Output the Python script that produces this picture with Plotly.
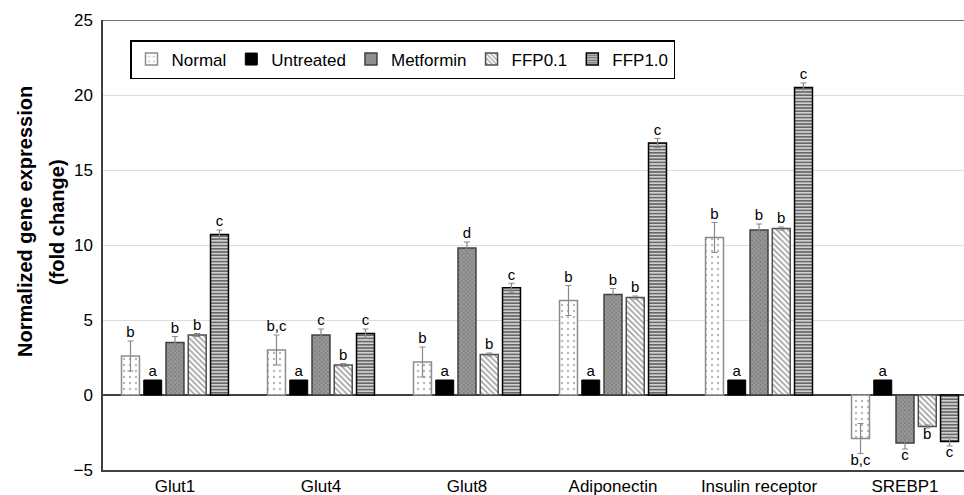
import plotly.graph_objects as go

genes = ["Glut1", "Glut4", "Glut8", "Adiponectin", "Insulin receptor", "SREBP1"]
series = ["Normal", "Untreated", "Metformin", "FFP0.1", "FFP1.0"]

normal = [2.6, 3.0, 2.2, 6.3, 10.5, -2.9]
untreated = [1.0, 1.0, 1.0, 1.0, 1.0, 1.0]
metformin = [3.5, 4.0, 9.8, 6.7, 11.0, -3.2]
ffp01 = [4.0, 2.0, 2.7, 6.5, 11.1, -2.1]
ffp10 = [10.7, 4.1, 7.15, 16.8, 20.5, -3.1]

normal_err = [1.0, 1.0, 1.0, 1.0, 1.0, 1.0]
untreated_err = [0, 0, 0, 0, 0, 0]
metformin_err = [0.4, 0.4, 0.4, 0.4, 0.4, 0.4]
ffp01_err = [0.1, 0.1, 0.1, 0.1, 0.1, 0.1]
ffp10_err = [0.3, 0.3, 0.3, 0.3, 0.3, 0.3]

normal_lbl = ["b", "b,c", "b", "b", "b", "b,c"]
untreated_lbl = ["a", "a", "a", "a", "a", "a"]
metformin_lbl = ["b", "c", "d", "b", "b", "c"]
ffp01_lbl = ["b", "b", "b", "b", "b", "b"]
ffp10_lbl = ["c", "c", "c", "c", "c", "c"]

values = [normal, untreated, metformin, ffp01, ffp10]
errors = [normal_err, untreated_err, metformin_err, ffp01_err, ffp10_err]
labels = [normal_lbl, untreated_lbl, metformin_lbl, ffp01_lbl, ffp10_lbl]

FONT = "Liberation Sans, Arial, sans-serif"
STEP = 0.1524
WIDTH = 0.123

styles = [
    dict(color="white", line=dict(color="#8c8c8c", width=1.5),
         pattern=dict(shape=".", fgcolor="#707070", bgcolor="white", size=6, solidity=0.12)),
    dict(color="black", line=dict(color="black", width=1)),
    dict(color="#7a7a7a", line=dict(color="#404040", width=1.5),
         pattern=dict(shape="x", fgcolor="#555555", bgcolor="#9a9a9a", size=3, solidity=0.4)),
    dict(color="white", line=dict(color="#505050", width=1.5),
         pattern=dict(shape="\\", fgcolor="#404040", bgcolor="white", size=4, solidity=0.4)),
    dict(color="#c8c8c8", line=dict(color="black", width=1.5),
         pattern=dict(shape="-", fgcolor="black", bgcolor="#d0d0d0", size=3.2, solidity=0.5)),
]

idx = list(range(len(genes)))
fig = go.Figure()
for k, name in enumerate(series):
    off = (k - 2) * STEP - WIDTH / 2
    has_err = any(e > 0 for e in errors[k])
    fig.add_trace(go.Bar(
        x=idx, y=values[k], name=name, offset=off, width=WIDTH,
        marker=styles[k],
        error_y=dict(type="data", array=errors[k], visible=has_err,
                     color="#8a8a8a", thickness=1.2, width=3),
    ))

for k, name in enumerate(series):
    cx = [i + (k - 2) * STEP for i in idx]
    for sign, pos in [(1, "top center"), (-1, "bottom center")]:
        xs, ys, ts = [], [], []
        for i in idx:
            v = values[k][i]
            if (v >= 0) == (sign > 0):
                xs.append(cx[i])
                ys.append(v + errors[k][i] if v >= 0 else v - errors[k][i])
                ts.append(labels[k][i])
        if xs:
            fig.add_trace(go.Scatter(
                x=xs, y=ys, text=ts, mode="text", textposition=pos,
                textfont=dict(family=FONT, size=15, color="black"),
                showlegend=False, hoverinfo="skip"))

fig.add_shape(type="line", xref="paper", x0=0, x1=1, yref="y", y0=25, y1=25,
              line=dict(color="#404040", width=1.5))

PL, PT, PW, PH = 103, 20, 861, 450
title_lines = ["Normalized gene expression", "(fold change)"]
title_x_px = [25, 57]
for txt, xp in zip(title_lines, title_x_px):
    fig.add_annotation(text="<b>" + txt + "</b>",
                       textangle=-90, xref="paper", yref="paper",
                       x=(xp - PL) / PW, y=1 - (222 - PT) / PH,
                       xanchor="center", yanchor="middle", showarrow=False,
                       font=dict(family=FONT, size=20, color="black"))

fig.update_layout(
    width=964, height=495,
    margin=dict(l=PL, r=0, t=PT, b=25),
    paper_bgcolor="white", plot_bgcolor="white",
    barmode="overlay",
    font=dict(family=FONT, size=17, color="black"),
    showlegend=True,
    legend=dict(orientation="h", x=(130 - PL) / PW, y=1 - (40 - PT) / PH,
                xanchor="left", yanchor="top",
                bordercolor="black", borderwidth=1.5, bgcolor="white",
                font=dict(family=FONT, size=17), itemwidth=30,
                traceorder="normal"),
    xaxis=dict(range=[-0.493, 5.404], tickmode="array", tickvals=idx, ticktext=genes,
               showgrid=False, zeroline=False, showline=True, linecolor="#404040",
               linewidth=1.5, ticks="", tickfont=dict(size=17)),
    yaxis=dict(range=[-5, 25], dtick=5, showgrid=True, gridcolor="#dcdcdc", gridwidth=1,
               zeroline=True, zerolinecolor="#404040", zerolinewidth=1.5,
               showline=True, linecolor="#404040", linewidth=1.5, ticks="",
               tickfont=dict(size=17), ticklabelstandoff=5),
)

fig.write_html("out.html", config={"displayModeBar": False},
               post_script="document.body.style.margin='0';document.body.style.overflow='hidden';")
